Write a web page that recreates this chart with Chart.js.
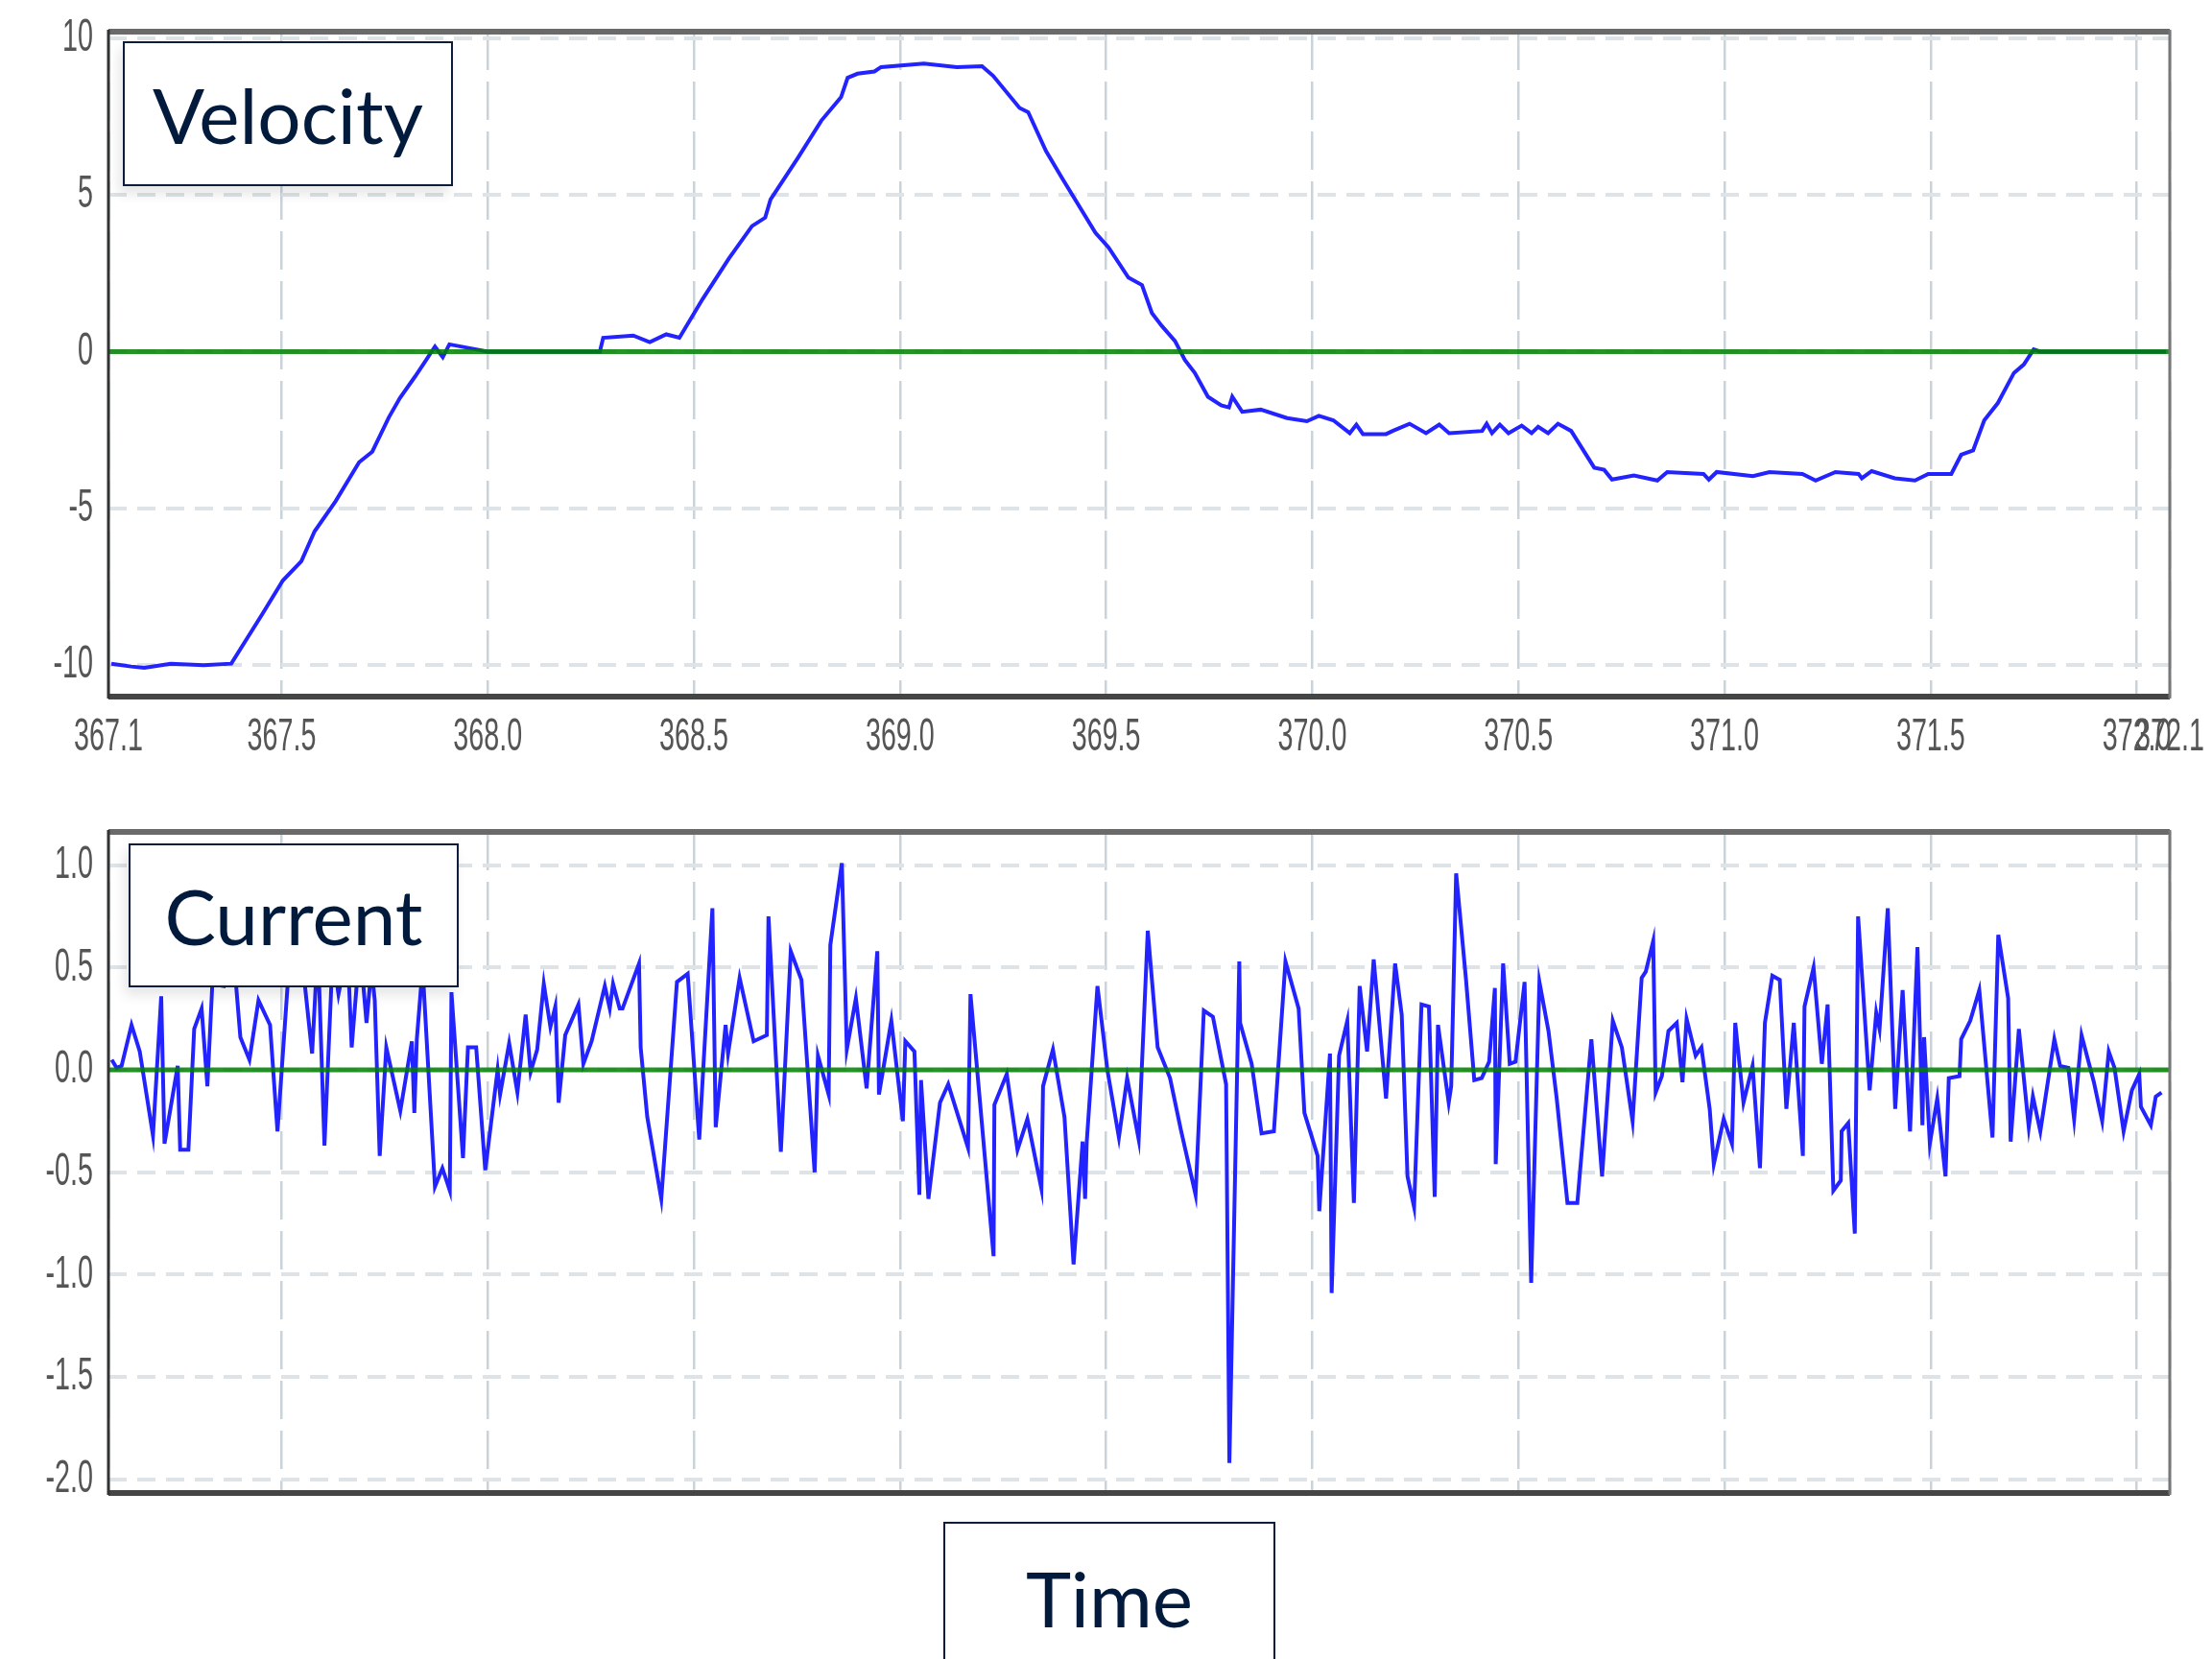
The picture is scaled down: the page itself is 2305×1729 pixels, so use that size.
<!DOCTYPE html>
<html>
<head>
<meta charset="utf-8">
<title>Velocity / Current vs Time</title>
<script src="https://cdn.jsdelivr.net/npm/chart.js@4.4.1/dist/chart.umd.min.js"></script>
<style>
  html, body { margin: 0; padding: 0; background: #fff; }
  body { width: 2305px; height: 1729px; position: relative; overflow: hidden; }
  canvas { position: absolute; left: 0; }
  #velocityCanvas { top: 0; }
  #currentCanvas  { top: 820px; }
  .tag {
    position: absolute; box-sizing: border-box; background: #fff;
    border: 2px solid #0b1d3a; color: #021b3d;
    font-family: Lato, "Open Sans", sans-serif; font-size: 80px;
    display: flex; align-items: center; justify-content: center;
  }
  #velocityTag { left: 128px; top: 43px;   width: 344px; height: 151px; box-shadow: -4px 8px 12px rgba(0,0,0,0.10); }
  #currentTag  { left: 134px; top: 879px;  width: 344px; height: 150px; box-shadow: -4px 8px 12px rgba(0,0,0,0.10); }
  #timeTag     { left: 983px; top: 1586px; width: 346px; height: 158px; }
</style>
</head>
<body>
<canvas id="velocityCanvas" width="2305" height="820" style="width:2305px;height:820px"></canvas>
<canvas id="currentCanvas" width="2305" height="780" style="width:2305px;height:780px"></canvas>
<div class="tag" id="velocityTag">Velocity</div>
<div class="tag" id="currentTag">Current</div>
<div class="tag" id="timeTag">Time</div>

<script>
// ── Axis bounds & ticks ──
const timeMin = 367.08;
const timeMax = 372.08;
const timeTicks = [367.5, 368.0, 368.5, 369.0, 369.5, 370.0, 370.5, 371.0, 371.5, 372.0];
const velocityTicks = [-10, -5, 0, 5, 10];
const currentTicks = [-2.0, -1.5, -1.0, -0.5, 0.0, 0.5, 1.0];

// ── Zero reference line ──
const baselineTime  = [timeMin, timeMax];
const baselineValue = [0, 0];

// ── Velocity trace ──
const velocityTime = [
  367.087, 367.135, 367.167, 367.231, 367.311, 367.378, 367.455, 367.503, 367.548, 367.580,
  367.631, 367.688, 367.720, 367.760, 367.787, 367.824, 367.848, 367.872, 367.891, 367.907,
  367.944, 368.000, 368.272, 368.280, 368.353, 368.393, 368.433, 368.465, 368.521, 368.585,
  368.641, 368.673, 368.686, 368.753, 368.809, 368.857, 368.873, 368.897, 368.938, 368.954,
  369.058, 369.138, 369.199, 369.226, 369.290, 369.311, 369.354, 369.394, 369.474, 369.506,
  369.554, 369.587, 369.611, 369.635, 369.667, 369.691, 369.715, 369.747, 369.779, 369.798,
  369.806, 369.830, 369.875, 369.939, 369.987, 370.016, 370.051, 370.091, 370.107, 370.123,
  370.179, 370.195, 370.236, 370.276, 370.308, 370.332, 370.412, 370.423, 370.436, 370.455,
  370.476, 370.508, 370.532, 370.548, 370.572, 370.596, 370.628, 370.684, 370.708, 370.727,
  370.780, 370.837, 370.861, 370.949, 370.962, 370.981, 371.069, 371.109, 371.189, 371.221,
  371.269, 371.325, 371.333, 371.357, 371.413, 371.462, 371.494, 371.550, 371.574, 371.603,
  371.630, 371.663, 371.702, 371.726, 371.750, 371.766, 372.071
];
const velocityValue = [
  -9.95, -10.04, -10.08, -9.95, -10.0, -9.95, -8.33, -7.30, -6.68, -5.73,
  -4.77, -3.53, -3.19, -2.10, -1.48, -0.79, -0.32, 0.16, -0.18, 0.23,
  0.14, 0.0, 0.0, 0.44, 0.51, 0.30, 0.55, 0.44, 1.67, 2.97,
  4.0, 4.27, 4.85, 6.19, 7.36, 8.11, 8.73, 8.86, 8.93, 9.07,
  9.18, 9.07, 9.10, 8.79, 7.77, 7.63, 6.40, 5.51, 3.79, 3.32,
  2.36, 2.12, 1.23, 0.82, 0.34, -0.27, -0.68, -1.44, -1.71, -1.78,
  -1.44, -1.92, -1.85, -2.12, -2.22, -2.05, -2.19, -2.60, -2.33, -2.63,
  -2.63, -2.53, -2.30, -2.60, -2.33, -2.60, -2.53, -2.30, -2.60, -2.33,
  -2.60, -2.36, -2.60, -2.40, -2.60, -2.30, -2.53, -3.70, -3.77, -4.08,
  -3.95, -4.11, -3.84, -3.90, -4.08, -3.84, -3.97, -3.84, -3.90, -4.11,
  -3.84, -3.90, -4.04, -3.81, -4.04, -4.11, -3.90, -3.90, -3.29, -3.15,
  -2.19, -1.64, -0.68, -0.41, 0.07, 0.0, 0.0
];

// ── Current trace ──
const currentTime = [
  367.088, 367.100, 367.112, 367.136, 367.156, 367.188, 367.208, 367.216, 367.248, 367.254,
  367.274, 367.288, 367.306, 367.320, 367.332, 367.360, 367.380, 367.400, 367.422, 367.444,
  367.472, 367.490, 367.520, 367.552, 367.574, 367.588, 367.604, 367.624, 367.638, 367.660,
  367.670, 367.690, 367.706, 367.718, 367.726, 367.738, 367.754, 367.788, 367.816, 367.822,
  367.828, 367.842, 367.872, 367.890, 367.908, 367.912, 367.940, 367.952, 367.972, 367.994,
  368.024, 368.030, 368.052, 368.072, 368.092, 368.104, 368.120, 368.136, 368.152, 368.164,
  368.172, 368.188, 368.220, 368.232, 368.252, 368.284, 368.296, 368.304, 368.320,
  368.327, 368.367, 368.371, 368.387, 368.421, 368.459, 368.485, 368.513, 368.545, 368.553,
  368.577, 368.583, 368.611, 368.645, 368.677, 368.681, 368.711, 368.735, 368.761, 368.793,
  368.801, 368.827, 368.831, 368.859, 368.871, 368.893, 368.919, 368.945, 368.949, 368.979,
  369.007, 369.013, 369.035, 369.047, 369.051, 369.069, 369.097, 369.117, 369.165, 369.171,
  369.227, 369.229, 369.259, 369.285, 369.309, 369.343, 369.347, 369.371, 369.399, 369.421,
  369.443, 369.449, 369.453, 369.479, 369.503, 369.531, 369.551, 369.579,
  369.601, 369.625, 369.655, 369.681, 369.717, 369.737, 369.759, 369.791, 369.799, 369.823,
  369.825, 369.853, 369.877, 369.907, 369.935, 369.967, 369.981, 370.013, 370.017, 370.043,
  370.047, 370.065, 370.085, 370.101, 370.115, 370.133, 370.149, 370.179, 370.201, 370.217,
  370.231, 370.247, 370.265, 370.283, 370.297, 370.305, 370.331, 370.337, 370.349, 370.373,
  370.393, 370.411, 370.429, 370.443, 370.445, 370.463, 370.479, 370.493, 370.515, 370.531,
  370.551, 370.573, 370.593, 370.619, 370.643, 370.677, 370.703, 370.729, 370.751, 370.777,
  370.799, 370.809, 370.827, 370.833,
  370.848, 370.864, 370.884, 370.898, 370.908, 370.930, 370.944, 370.964, 370.974, 370.998,
  371.018, 371.026, 371.046, 371.068, 371.086, 371.098, 371.116, 371.134, 371.150, 371.168,
  371.190, 371.194, 371.216, 371.236, 371.250, 371.264, 371.282, 371.284, 371.300, 371.316,
  371.324, 371.352, 371.368, 371.376, 371.396, 371.414, 371.432, 371.450, 371.468, 371.480,
  371.484, 371.498, 371.516, 371.536, 371.544, 371.570, 371.574, 371.596, 371.618, 371.650,
  371.664, 371.688, 371.694, 371.714, 371.738, 371.748, 371.766, 371.800, 371.814, 371.834,
  371.848, 371.866, 371.896, 371.916, 371.932, 371.946, 371.968, 371.988, 372.006, 372.010,
  372.034, 372.046, 372.060
];
const currentValue = [
  0.05, 0.01, 0.02, 0.22, 0.09, -0.32, 0.36, -0.36, 0.02, -0.39,
  -0.39, 0.20, 0.30, -0.08, 0.42, 0.41, 0.65, 0.16, 0.05, 0.34,
  0.22, -0.30, 0.57, 0.50, 0.08, 0.61, -0.37, 0.57, 0.37, 0.59,
  0.11, 0.61, 0.23, 0.50, 0.34, -0.42, 0.11, -0.20, 0.14, -0.21,
  0.15, 0.50, -0.57, -0.48, -0.59, 0.38, -0.43, 0.11, 0.11, -0.49,
  0.00, -0.12, 0.13, -0.11, 0.27, -0.01, 0.10, 0.42, 0.21, 0.31,
  -0.16, 0.17, 0.32, 0.03, 0.14, 0.41, 0.30, 0.42, 0.30,
  0.30, 0.52, 0.11, -0.23, -0.63, 0.43, 0.47, -0.34, 0.79, -0.28,
  0.22, 0.08, 0.45, 0.14, 0.17, 0.75, -0.40, 0.58, 0.44, -0.50,
  0.07, -0.12, 0.61, 1.01, 0.10, 0.35, -0.09, 0.58, -0.12, 0.24,
  -0.25, 0.14, 0.09, -0.61, -0.05, -0.63, -0.16, -0.07, -0.38, 0.37,
  -0.91, -0.17, -0.02, -0.39, -0.24, -0.58, -0.08, 0.10, -0.23, -0.95,
  -0.35, -0.63, -0.35, 0.41, 0.00, -0.33, -0.04, -0.34,
  0.68, 0.11, -0.04, -0.29, -0.61, 0.29, 0.26, -0.07, -1.92, 0.53,
  0.23, 0.03, -0.31, -0.30, 0.53, 0.30, -0.21, -0.42, -0.69, 0.08,
  -1.09, 0.07, 0.24, -0.65, 0.41, 0.09, 0.54, -0.14, 0.52, 0.27,
  -0.52, -0.67, 0.32, 0.31, -0.62, 0.22, -0.16, -0.08, 0.96, 0.44,
  -0.05, -0.04, 0.04, 0.40, -0.46, 0.52, 0.03, 0.04, 0.43, -1.04,
  0.43, 0.19, -0.14, -0.65, -0.65, 0.15, -0.52, 0.24, 0.11, -0.25,
  0.45, 0.48, 0.63, -0.11,
  -0.03, 0.19, 0.23, -0.06, 0.25, 0.07, 0.11, -0.19, -0.46, -0.24,
  -0.36, 0.23, -0.16, 0.02, -0.48, 0.23, 0.46, 0.44, -0.19, 0.23,
  -0.42, 0.31, 0.50, 0.03, 0.32, -0.59, -0.54, -0.30, -0.26, -0.80,
  0.75, -0.10, 0.28, 0.20, 0.79, -0.19, 0.39, -0.30, 0.60, -0.27,
  0.16, -0.36, -0.14, -0.52, -0.04, -0.03, 0.15, 0.24, 0.39, -0.33,
  0.66, 0.35, -0.35, 0.20, -0.28, -0.13, -0.30, 0.15, 0.02, 0.01,
  -0.24, 0.17, -0.06, -0.25, 0.09, 0.01, -0.30, -0.10, -0.02, -0.18,
  -0.27, -0.13, -0.11
];

//  Helpers 
const toPoints = (xs, ys) => xs.map((x, i) => ({ x, y: ys[i] }));

// frame drawn round the plot area, heavier top/bottom like the scope screenshot
const framePlugin = {
  id: 'frame',
  afterDraw(chart) {
    const { ctx, chartArea: a } = chart;
    ctx.save();
    const side = (x1, y1, x2, y2, w, c) => {
      ctx.beginPath(); ctx.lineWidth = w; ctx.strokeStyle = c;
      ctx.moveTo(x1, y1); ctx.lineTo(x2, y2); ctx.stroke();
    };
    side(a.left, a.top, a.right, a.top, 6, '#6a6a6a');
    side(a.left, a.bottom, a.right, a.bottom, 6, '#454545');
    side(a.left, a.top - 2, a.left, a.bottom + 2, 3, '#333');
    side(a.right, a.top - 2, a.right, a.bottom + 2, 3, '#777');
    ctx.restore();
  }
};

// tick labels in the tall, condensed look of the original screenshot
const tallTicksPlugin = {
  id: 'tallTicks',
  afterDraw(chart, args, opts) {
    const ctx = chart.ctx;
    ctx.save();
    ctx.font = '35px "Liberation Sans", Arial, sans-serif';
    ctx.fillStyle = '#555';
    ctx.textBaseline = 'middle';
    const put = (text, x, y, align) => {
      ctx.save();
      ctx.translate(x, y);
      ctx.scale(0.82, 1.36);
      ctx.textAlign = align;
      ctx.fillText(text, 0, 0);
      ctx.restore();
    };
    const ys = chart.scales.y;
    ys.ticks.forEach(t => put(t.label, opts.yRight, ys.getPixelForValue(t.value), 'right'));
    if (opts.showX) {
      const xs = chart.scales.x;
      xs.ticks.forEach(t => put(t.label, xs.getPixelForValue(t.value), opts.xMid, 'center'));
    }
    ctx.restore();
  }
};

function buildChart(canvasId, series, yMin, yMax, yTicks, yDigits, layout) {
  return new Chart(document.getElementById(canvasId), {
    type: 'line',
    data: {
      datasets: [
        {
          data: toPoints(baselineTime, baselineValue),
          borderColor: 'rgba(0,128,0,0.85)',
          borderWidth: 5
        },
        {
          data: series,
          borderColor: 'rgb(35,35,255)',
          borderWidth: 4
        }
      ]
    },
    options: {
      responsive: false,
      devicePixelRatio: 1,
      animation: false,
      layout: { padding: { top: layout.top, right: 44, left: 0, bottom: 0 } },
      elements: { point: { radius: 0 }, line: { tension: 0 } },
      plugins: {
        legend: { display: false },
        tooltip: { enabled: false },
        tallTicks: { yRight: 97, showX: layout.showX, xMid: 769 }
      },
      scales: {
        x: {
          type: 'linear',
          min: timeMin,
          max: timeMax,
          afterBuildTicks: s => { s.ticks = [timeMin, ...timeTicks, timeMax].map(v => ({ value: v })); },
          afterFit: s => { s.height = layout.xHeight; },
          ticks: { display: false, callback: v => v.toFixed(1) },
          grid: { color: '#c9d3d9', lineWidth: 2.5, drawTicks: false },
          border: { display: false, dash: [40, 12] }
        },
        y: {
          min: yMin,
          max: yMax,
          afterBuildTicks: s => { s.ticks = yTicks.map(v => ({ value: v })); },
          afterFit: s => { s.width = 113; },
          ticks: { display: false, callback: v => v.toFixed(yDigits) },
          grid: { color: '#dde3e7', lineWidth: 4, drawTicks: false },
          border: { display: false, dash: [19, 11] }
        }
      }
    },
    plugins: [framePlugin, tallTicksPlugin]
  });
}

//  Init 
buildChart('velocityCanvas', toPoints(velocityTime, velocityValue), -11.0, 10.2, velocityTicks, 0,
  { top: 33, xHeight: 94, showX: true });
buildChart('currentCanvas', toPoints(currentTime, currentValue), -2.067, 1.163, currentTicks, 1,
  { top: 47, xHeight: 44, showX: false });
</script>
</body>
</html>
